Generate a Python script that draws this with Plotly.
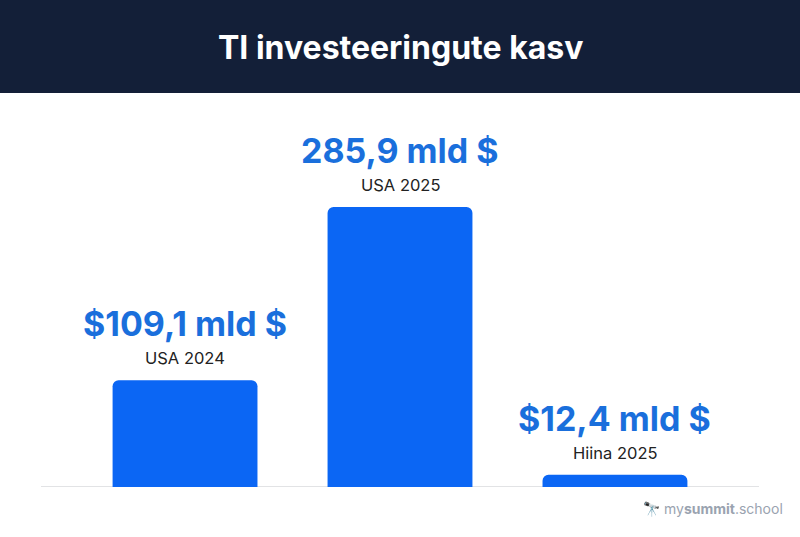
import plotly.graph_objects as go

categories = ["USA 2024", "USA 2025", "Hiina 2025"]
values = [109.1, 285.9, 12.4]
value_labels = ["$109,1 mld $", "285,9 mld $", "$12,4 mld $"]

fig = go.Figure(go.Bar(
    x=categories, y=values, width=0.674,
    marker=dict(color="#0b66f4", cornerradius=6, line=dict(width=0)),
    hoverinfo="skip",
))

for c, v, lab in zip(categories, values, value_labels):
    fig.add_annotation(x=c, y=v, text=lab, showarrow=False, yanchor="bottom", yshift=34,
                       font=dict(family="Inter", size=34, color="#1a6fdc", weight="bold"))
    fig.add_annotation(x=c, y=v, text=c, showarrow=False, yanchor="bottom", yshift=10,
                       font=dict(family="Inter", size=16.5, color="#222222"))

fig.add_shape(type="line", xref="paper", yref="y", x0=0, x1=1, y0=0, y1=0,
              line=dict(color="#d8dadd", width=1.5), layer="below")

fig.update_layout(
    width=800, height=537,
    margin=dict(l=41, r=41, t=100, b=50),
    paper_bgcolor="white", plot_bgcolor="white",
    showlegend=False,
    xaxis=dict(range=[-0.67, 2.67], showticklabels=False, showgrid=False, zeroline=False, fixedrange=True),
    yaxis=dict(range=[0, 395.2], showticklabels=False, showgrid=False, zeroline=False, fixedrange=True),
)
# title band
fig.add_shape(type="rect", xref="paper", yref="paper", x0=-41/718, x1=1+41/718,
              y0=1+7/387, y1=1+100/387,
              fillcolor="#131f38", line=dict(width=0))
fig.add_annotation(xref="paper", yref="paper", x=0.5, y=1+(100-47)/387, yanchor="middle",
                   text="TI investeeringute kasv", showarrow=False,
                   font=dict(family="Inter", size=32, color="white", weight="bold"))
fig.add_annotation(xref="paper", yref="paper", x=1+26/718, y=-22/387, xanchor="right", yanchor="middle",
                   text="🔭 my<b>summit</b>.school", showarrow=False,
                   font=dict(family="Inter", size=14, color="#9aa3b0"))
fig.write_html("out.html", config={"displayModeBar": False},
               post_script="document.body.style.margin='0';document.body.style.overflow='hidden';")
